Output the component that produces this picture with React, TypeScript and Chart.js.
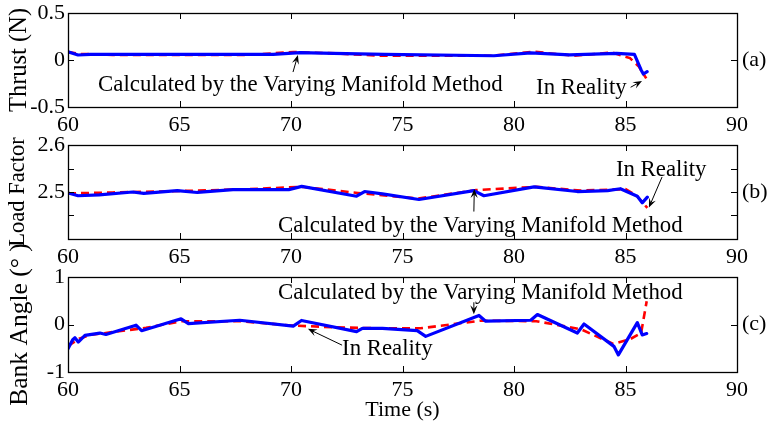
import React, { useEffect, useRef } from 'react';
import { Chart, registerables } from 'chart.js';

Chart.register(...registerables);

// ---- shared time axis ----
const timeMin = 60;
const timeMax = 90;
const timeStep = 5;

// ---- (a) Thrust (N) ----
const thrustCalcT = [60, 60.45, 61, 65, 69.2, 70.4, 71.9, 74.2, 79.1, 80.75, 82.5, 84.6, 85.4, 85.7, 85.8, 85.97];
const thrustCalcV = [0.088, 0.053, 0.06, 0.06, 0.06, 0.078, 0.07, 0.06, 0.045, 0.075, 0.055, 0.07, 0.06, -0.106, -0.149, -0.124];
const thrustRealT = [60, 60.5, 62, 68, 70.1, 72, 74, 79, 80.9, 82.7, 84.4, 85.2, 85.6, 85.93];
const thrustRealV = [0.085, 0.065, 0.055, 0.053, 0.085, 0.07, 0.045, 0.045, 0.088, 0.045, 0.08, 0.02, -0.07, -0.195];
const thrustTicks = [-0.5, 0, 0.5];
const thrustTickLabels = [-0.5, 0, 0.5];

// ---- (b) Load Factor ----
const loadCalcT = [60, 60.45, 61.4, 62.9, 63.4, 64.9, 65.8, 67.4, 69.9, 70.48, 72.94, 73.3, 74.1, 75.74, 78.2, 78.65, 80.9, 82.84, 84.2, 84.77, 85.53, 85.75, 85.98];
const loadCalcV = [2.498, 2.492, 2.494, 2.5, 2.497, 2.503, 2.499, 2.505, 2.505, 2.512, 2.491, 2.501, 2.496, 2.484, 2.503, 2.492, 2.511, 2.501, 2.503, 2.507, 2.491, 2.477, 2.489];
const loadRealT = [60, 62, 65, 68, 70.5, 73, 75.7, 78.3, 81, 83, 85, 85.5, 85.98];
const loadRealV = [2.497, 2.499, 2.502, 2.506, 2.511, 2.498, 2.486, 2.504, 2.511, 2.503, 2.506, 2.492, 2.466];
const loadTicks = [2.4, 2.45, 2.5, 2.55, 2.6];
const loadTickLabels = [2.5, 2.6];

// ---- (c) Bank Angle (°) ----
const bankCalcT = [60, 60.21, 60.31, 60.46, 60.76, 61.43, 61.7, 63.05, 63.3, 65.07, 65.4, 67.7, 70.1, 70.47, 72.94, 73.2, 74.1, 75.66, 76.04, 78.43, 78.73, 80.75, 81.05, 82.84, 83.14, 84.48, 84.68, 85.53, 85.75, 85.95];
const bankCalcV = [-0.51, -0.32, -0.28, -0.37, -0.23, -0.18, -0.21, -0.015, -0.13, 0.12, 0.02, 0.09, -0.035, 0.085, -0.15, -0.08, -0.08, -0.13, -0.25, 0.19, 0.07, 0.09, 0.21, -0.18, 0.01, -0.46, -0.64, 0.04, -0.22, -0.19];
const bankRealT = [60, 60.5, 61, 62, 63.5, 65.1, 67.7, 70, 72, 74, 75.8, 78.5, 81, 83, 84.45, 85.2, 85.7, 85.95];
const bankRealV = [-0.45, -0.3, -0.22, -0.16, -0.07, 0.07, 0.07, -0.02, -0.06, -0.08, -0.08, 0.08, 0.07, -0.1, -0.41, -0.31, -0.18, 0.49];
const bankTicks = [-1, 0, 1];
const bankTickLabels = [-1, 0, 1];

const CALC_TEXT = 'Calculated by the Varying Manifold Method';
const REAL_TEXT = 'In Reality';

const FONT = '"Liberation Serif", "Times New Roman", serif';

// Annotation: text anchored at (tx, ty) in data units, arrow from (ax, ay) to (hx, hy)
type Note = { text: string; tx: number; ty: number; ax: number; ay: number; hx: number; hy: number };

interface Panel {
  key: string;
  letter: string;
  letterAt: number;
  title: string;
  titleSize: number;
  yMin: number;
  yMax: number;
  yTicks: number[];
  yLabels: number[];
  calcT: number[];
  calcV: number[];
  realT: number[];
  realV: number[];
  notes: Note[];
  top: number;
  bottom: number;
  xTitle?: string;
}

const W = 768;
const H = 425;
const LEFT = 68;
const RIGHT = 737;

const panels: Panel[] = [
  {
    key: 'a', letter: '(a)', letterAt: 0, title: 'Thrust (N)', titleSize: 24.5,
    yMin: -0.5, yMax: 0.5, yTicks: thrustTicks, yLabels: thrustTickLabels,
    calcT: thrustCalcT, calcV: thrustCalcV, realT: thrustRealT, realV: thrustRealV,
    notes: [
      { text: CALC_TEXT, tx: 61.35, ty: -0.266, ax: 70.09, ay: -0.128, hx: 70.31, hy: 0.053 },
      { text: REAL_TEXT, tx: 80.99, ty: -0.298, ax: 85.23, ay: -0.29, hx: 85.74, hy: -0.223 },
    ],
    top: 13, bottom: 107,
  },
  {
    key: 'b', letter: '(b)', letterAt: 2.5, title: 'Load Factor', titleSize: 22.5,
    yMin: 2.4, yMax: 2.6, yTicks: loadTicks, yLabels: loadTickLabels,
    calcT: loadCalcT, calcV: loadCalcV, realT: loadRealT, realV: loadRealV,
    notes: [
      { text: CALC_TEXT, tx: 69.42, ty: 2.4273, ax: 78.2, ay: 2.4584, hx: 78.22, hy: 2.5063 },
      { text: REAL_TEXT, tx: 84.57, ty: 2.547, ax: 86.64, ay: 2.532, hx: 86.05, hy: 2.467 },
    ],
    top: 145, bottom: 239,
  },
  {
    key: 'c', letter: '(c)', letterAt: 0, title: 'Bank Angle (° )', titleSize: 25.5,
    yMin: -1, yMax: 1, yTicks: bankTicks, yLabels: bankTickLabels,
    calcT: bankCalcT, calcV: bankCalcV, realT: bankRealT, realV: bankRealV,
    notes: [
      { text: CALC_TEXT, tx: 69.42, ty: 0.664, ax: 78.2, ay: 0.468, hx: 78.2, hy: 0.216 },
      { text: REAL_TEXT, tx: 72.29, ty: -0.52, ax: 72.29, ay: -0.435, hx: 70.76, hy: -0.092 },
    ],
    top: 277, bottom: 372, xTitle: 'Time (s)',
  },
];

const toPoints = (t: number[], v: number[]) => t.map((x, i) => ({ x, y: v[i] }));

function drawArrow(ctx: CanvasRenderingContext2D, x0: number, y0: number, x1: number, y1: number) {
  const ang = Math.atan2(y1 - y0, x1 - x0);
  const len = 9;
  const half = 3.6;
  const c = Math.cos(ang);
  const s = Math.sin(ang);
  ctx.beginPath();
  ctx.moveTo(x0, y0);
  ctx.lineTo(x1 - c * len * 0.6, y1 - s * len * 0.6);
  ctx.stroke();
  ctx.beginPath();
  ctx.moveTo(x1, y1);
  ctx.lineTo(x1 - c * len + s * half, y1 - s * len - c * half);
  ctx.lineTo(x1 - c * len * 0.6, y1 - s * len * 0.6);
  ctx.lineTo(x1 - c * len - s * half, y1 - s * len + c * half);
  ctx.closePath();
  ctx.fill();
}

function decorPlugin(panel: Panel) {
  return {
    id: 'decor' + panel.key,
    afterDraw(chart: any) {
      const ctx: CanvasRenderingContext2D = chart.ctx;
      const xs = chart.scales.x;
      const ys = chart.scales.y;
      const { left, right, top, bottom } = chart.chartArea;
      ctx.save();
      ctx.strokeStyle = '#000';
      ctx.fillStyle = '#000';
      ctx.lineWidth = 1.3;
      // frame
      ctx.strokeRect(Math.round(left) + 0.5, Math.round(top) + 0.5, Math.round(right - left), Math.round(bottom - top));
      // inward ticks
      const tl = 6;
      ctx.lineWidth = 1;
      ctx.beginPath();
      for (let t = timeMin + timeStep; t < timeMax; t += timeStep) {
        const px = Math.round(xs.getPixelForValue(t)) + 0.5;
        ctx.moveTo(px, top); ctx.lineTo(px, top + tl);
        ctx.moveTo(px, bottom); ctx.lineTo(px, bottom - tl);
      }
      panel.yTicks.forEach((v) => {
        if (v <= panel.yMin || v >= panel.yMax) return;
        const py = Math.round(ys.getPixelForValue(v)) + 0.5;
        ctx.moveTo(left, py); ctx.lineTo(left + tl, py);
        ctx.moveTo(right, py); ctx.lineTo(right - tl, py);
      });
      ctx.stroke();

      // annotations
      ctx.font = `22.8px ${FONT}`;
      ctx.textAlign = 'left';
      ctx.textBaseline = 'middle';
      panel.notes.forEach((n) => {
        ctx.fillText(n.text, xs.getPixelForValue(n.tx), ys.getPixelForValue(n.ty));
        ctx.lineWidth = 1;
        drawArrow(ctx, xs.getPixelForValue(n.ax), ys.getPixelForValue(n.ay), xs.getPixelForValue(n.hx), ys.getPixelForValue(n.hy));
      });

      // panel letter
      ctx.font = `22px ${FONT}`;
      ctx.fillText(panel.letter, right + 5, ys.getPixelForValue(panel.letterAt));
      ctx.restore();
    },
  };
}

function PanelChart({ panel }: { panel: Panel }) {
  const ref = useRef<HTMLCanvasElement>(null);
  useEffect(() => {
    if (!ref.current) return;
    const xh = panel.xTitle ? H - panel.bottom : 40;
    const padBottom = H - panel.bottom - xh;
    const labelSet = panel.yLabels.map((v) => v.toFixed(3));
    const chart = new Chart(ref.current, {
      type: 'line',
      data: {
        datasets: [
          {
            label: CALC_TEXT,
            data: toPoints(panel.calcT, panel.calcV),
            borderColor: '#0000ff',
            borderWidth: 3.2,
            pointRadius: 0,
            borderJoinStyle: 'round',
            borderCapStyle: 'round',
            tension: 0,
          },
          {
            label: REAL_TEXT,
            data: toPoints(panel.realT, panel.realV),
            borderColor: '#ff0000',
            borderWidth: 2.6,
            borderDash: [8, 5],
            pointRadius: 0,
            tension: 0,
          },
        ],
      },
      options: {
        responsive: false,
        animation: false,
        devicePixelRatio: 1,
        events: [],
        layout: { padding: { left: 0, right: W - RIGHT, top: panel.top, bottom: padBottom } },
        plugins: { legend: { display: false }, tooltip: { enabled: false } },
        scales: {
          x: {
            type: 'linear',
            min: timeMin,
            max: timeMax,
            grid: { display: false, drawTicks: false },
            border: { display: false },
            ticks: {
              stepSize: timeStep,
              padding: 5,
              color: '#000',
              font: { family: FONT, size: 22 },
              maxRotation: 0,
              autoSkip: false,
            },
            title: panel.xTitle
              ? { display: true, text: panel.xTitle, color: '#000', font: { family: FONT, size: 22 }, padding: { top: 0, bottom: 2 } }
              : { display: false },
            afterFit: (s: any) => {
              s.height = xh;
              s.paddingLeft = 0;
              s.paddingRight = 0;
            },
          },
          y: {
            type: 'linear',
            min: panel.yMin,
            max: panel.yMax,
            grid: { display: false, drawTicks: false },
            border: { display: false },
            afterBuildTicks: (s: any) => {
              s.ticks = panel.yTicks.map((v) => ({ value: v }));
            },
            ticks: {
              padding: 3,
              color: '#000',
              autoSkip: false,
              font: { family: FONT, size: 22 },
              callback: (v: any) => (labelSet.includes(Number(v).toFixed(3)) ? String(Number(Number(v).toFixed(2))) : ''),
            },
            title: {
              display: true,
              text: panel.title,
              color: '#000',
              font: { family: FONT, size: panel.titleSize },
              padding: { top: 5, bottom: 0 },
            },
            afterFit: (s: any) => {
              s.width = LEFT;
              s.paddingTop = 0;
              s.paddingBottom = 0;
            },
          },
        },
      },
      plugins: [decorPlugin(panel)],
    } as any);
    return () => chart.destroy();
  }, [panel]);
  return (
    <canvas
      ref={ref}
      width={W}
      height={H}
      style={{ position: 'absolute', left: 0, top: 0, width: W, height: H }}
    />
  );
}

export default function App() {
  return (
    <div style={{ position: 'fixed', left: 0, top: 0, width: W, height: H, background: '#fff', overflow: 'hidden' }}>
      {panels.map((p) => (
        <PanelChart key={p.key} panel={p} />
      ))}
    </div>
  );
}
